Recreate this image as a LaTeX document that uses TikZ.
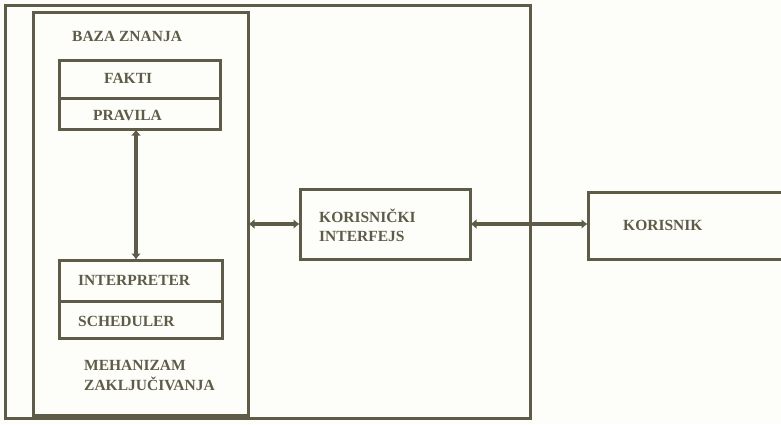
\documentclass[tikz,border=0pt]{standalone}
\usepackage{fontspec}
\setmainfont{Liberation Serif}
\usetikzlibrary{arrows.meta}
\definecolor{ink}{HTML}{5E5C48}
\definecolor{paper}{HTML}{FDFDF9}
\tikzset{
  frame/.style={draw=ink, line width=3pt, rectangle, inner sep=0pt},
  lbl/.style={text=ink, font=\bfseries\fontsize{15.5}{17}\selectfont, anchor=west, inner sep=0pt},
  conn/.style={draw=ink, line width=3.6pt, {Latex[length=6pt,width=10pt]}-{Latex[length=6pt,width=10pt]}, shorten <=-1pt, shorten >=-1pt},
}
\begin{document}
\begin{tikzpicture}[x=1pt,y=-1pt]
\fill[paper] (0,0) rectangle (781,424);
\useasboundingbox (0,0) rectangle (781,424);
% outer frame
\node[frame, minimum width=525pt, minimum height=413pt] (outer) at (267.5,212) {};
% baza znanja frame
\node[frame, minimum width=215pt, minimum height=403pt] (baza) at (140.5,213.5) {};
% fakti / pravila
\node[frame, minimum width=161pt, minimum height=38pt] (fakti) at (139.5,79) {};
\node[frame, minimum width=161pt, minimum height=31pt] (pravila) at (139.5,113.5) {};
% interpreter / scheduler
\node[frame, minimum width=163pt, minimum height=41pt] (interp) at (140.5,280.5) {};
\node[frame, minimum width=163pt, minimum height=37pt] (sched) at (140.5,319.5) {};
% korisnicki interfejs
\node[frame, minimum width=170pt, minimum height=70pt] (ki) at (385,224) {};
% korisnik
\node[frame, minimum width=210pt, minimum height=67pt] (kor) at (693,225.5) {};
% labels
\node[lbl] (lbaza) at (72,36) {BAZA ZNANJA};
\node[lbl] (lfakti) at (104,78) {FAKTI};
\node[lbl] (lpravila) at (93,115) {PRAVILA};
\node[lbl] (linterp) at (78,280) {INTERPRETER};
\node[lbl] (lsched) at (78,321) {SCHEDULER};
\node[lbl] (lmeh) at (84,365) {MEHANIZAM};
\node[lbl] (lzak) at (84,384) {ZAKLJUČIVANJA};
\node[lbl] (lki1) at (319,216) {KORISNIČKI};
\node[lbl] (lki2) at (319,236) {INTERFEJS};
\node[lbl] (lkor) at (623,225) {KORISNIK};
% connectors
\coordinate (c1) at (136,129);
\coordinate (c2) at (136,260);
\draw[conn] (pravila.south -| c1) -- (interp.north -| c2);
\draw[conn] (ki.west -| baza.east) -- (ki.west);
\draw[conn] (ki.east) -- (kor.west |- ki.east);
\end{tikzpicture}
\end{document}
